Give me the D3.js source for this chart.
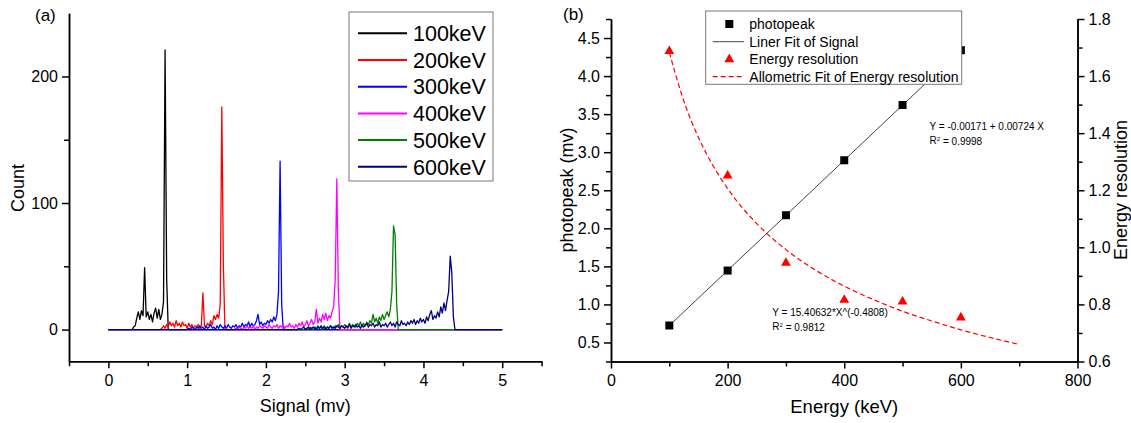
<!DOCTYPE html>
<html>
<head>
<meta charset="utf-8">
<script src="https://cdn.jsdelivr.net/npm/d3@7"></script>
<style>
  body { margin: 0; background: #fff; }
  svg { display: block; font-family: "Liberation Sans", Arial, sans-serif; }
  .axis path, .axis line { stroke: #000; stroke-width: 1.5; }
  .axis text { fill: #000; }
</style>
</head>
<body>
<script>
// ---- panel (a): spectra, counts per 0.02 mv channel ----
var binWidth = 0.02;
var labels = ["100keV", "200keV", "300keV", "400keV", "500keV", "600keV"];
var colors = ["#000000", "#ff0000", "#0000ff", "#ff00ff", "#008000", "#000080"];
var starts = [0.30, 0.66, 1.00, 1.60, 2.50, 2.40];

var counts100 = [0,2,3,9,14,8,15,11,49,10,14,8,12,6,13,17,9,16,8,12,22,221,40,0];
var counts200 = [0,1,3,1,4,2,6,3,5,2,7,3,5,2,6,3,4,1,5,2,4,1,3,2,4,1,3,29,3,2,5,3,7,4,11,8,12,9,20,176,50,0];
var counts300 = [0,1,0,2,1,0,2,1,3,1,2,0,3,1,2,4,1,2,0,3,1,4,2,1,3,1,4,2,1,3,2,4,1,3,2,5,2,4,3,6,2,5,3,4,7,12,4,6,3,5,4,7,5,8,6,10,7,12,30,133,20,0];
var counts400 = [0,1,0,2,1,0,2,1,3,1,2,1,3,0,2,1,3,2,1,3,2,1,4,2,1,3,2,4,1,3,2,4,1,3,2,5,2,3,1,4,2,5,3,6,2,4,7,3,5,8,4,6,16,5,9,6,12,8,13,7,11,9,14,18,40,119,30,0];
var counts500 = [0,1,0,2,1,0,2,1,3,1,2,0,3,1,2,1,3,2,1,3,2,4,1,3,2,4,2,1,5,2,4,3,2,5,3,6,2,5,3,6,4,7,5,12,6,9,5,10,7,12,8,11,14,10,16,30,82,75,20,0];
var counts600 = [0,1,0,1,2,0,1,2,0,1,2,1,0,2,1,3,1,2,0,2,1,3,1,2,1,3,2,1,3,2,1,3,2,4,1,3,2,4,2,3,1,4,2,3,5,2,4,3,5,2,4,3,6,2,4,3,5,2,4,6,3,5,2,6,4,3,7,4,5,3,6,4,7,5,8,4,7,5,9,6,8,5,10,7,12,15,8,11,9,14,10,18,13,21,15,23,30,58,45,10,0];
var allCounts = [counts100, counts200, counts300, counts400, counts500, counts600];

// ---- panel (b) ----
var energies = [100, 200, 300, 400, 500, 600];
var photopeak = [0.723, 1.445, 2.172, 2.894, 3.62, 4.34];
var resolution = [1.687, 1.251, 0.945, 0.816, 0.81, 0.754];
// linear fit line end points (Y = -0.00171 + 0.00724 X)
var linFitX = [100, 600];
var linFitY = [0.7223, 4.3423];
// allometric fit curve (Y = 15.40632*X^(-0.4808)) read at these energies
var alloFitX = [100, 125, 150, 175, 200, 250, 300, 350, 400, 450, 500, 550, 600, 650, 700];
var alloFitY = [1.683, 1.512, 1.385, 1.286, 1.206, 1.083, 0.992, 0.921, 0.864, 0.817, 0.776, 0.742, 0.711, 0.684, 0.660];

var svg = d3.select("body").append("svg")
    .attr("width", 1131)
    .attr("height", 423);

// ================= panel (a) =================
var xA = d3.scaleLinear().domain([-0.5, 5.5]).range([69, 541.6]);
var yA = d3.scaleLinear().domain([-25, 250]).range([361.2, 13.2]);

var gA = svg.append("g");

// minor ticks
gA.append("g").attr("class", "axis")
    .attr("transform", "translate(0," + yA.range()[0] + ")")
    .call(d3.axisBottom(xA).tickValues([-0.5, 0.5, 1.5, 2.5, 3.5, 4.5, 5.5]).tickFormat("").tickSize(5).tickSizeOuter(0));
gA.append("g").attr("class", "axis")
    .attr("transform", "translate(" + xA.range()[0] + ",0)")
    .call(d3.axisLeft(yA).tickValues([50, 150]).tickFormat("").tickSize(5).tickSizeOuter(0));

gA.append("g").attr("class", "axis")
    .attr("transform", "translate(0," + yA.range()[0] + ")")
    .call(d3.axisBottom(xA).tickValues([0, 1, 2, 3, 4, 5]).tickFormat(d3.format("d")).tickSize(7).tickSizeOuter(0).tickPadding(6))
    .selectAll("text").style("font-size", "16px");
gA.append("g").attr("class", "axis")
    .attr("transform", "translate(" + xA.range()[0] + ",0)")
    .call(d3.axisLeft(yA).tickValues([0, 100, 200]).tickSize(7).tickSizeOuter(0).tickPadding(4))
    .selectAll("text").style("font-size", "16px");

var lineA = d3.line().x(function(d) { return xA(d[0]); }).y(function(d) { return yA(d[1]); });

allCounts.forEach(function(c, k) {
  var pts = [[0, 0]];
  c.forEach(function(v, i) { pts.push([starts[k] + i * binWidth, v]); });
  pts.push([5, 0]);
  gA.append("path")
    .datum(pts)
    .attr("fill", "none")
    .attr("stroke", colors[k])
    .attr("stroke-width", 1.3)
    .attr("stroke-linejoin", "round")
    .attr("d", lineA);
});

// legend
var legA = gA.append("g");
legA.append("rect")
    .attr("x", 349).attr("y", 12).attr("width", 144).attr("height", 169)
    .attr("fill", "#fff").attr("stroke", "#777").attr("stroke-width", 1);
labels.forEach(function(l, i) {
  var yy = 33.3 + i * 26.7;
  legA.append("line").attr("x1", 358).attr("x2", 407).attr("y1", yy).attr("y2", yy)
      .attr("stroke", colors[i]).attr("stroke-width", 2);
  legA.append("text").attr("x", 413).attr("y", yy).attr("dy", "0.36em")
      .style("font-size", "21.5px").text(l);
});

gA.append("text").attr("x", 35).attr("y", 15).attr("dy", "0.36em")
    .style("font-size", "17px").text("(a)");
gA.append("text")
    .attr("transform", "translate(18,188) rotate(-90)")
    .attr("text-anchor", "middle").attr("dy", "0.36em")
    .style("font-size", "18px").text("Count");
gA.append("text")
    .attr("x", xA(2.5)).attr("y", 406).attr("dy", "0.36em")
    .attr("text-anchor", "middle")
    .style("font-size", "18px").text("Signal (mv)");

// ================= panel (b) =================
var xB = d3.scaleLinear().domain([0, 800]).range([611, 1077.5]);
var yB = d3.scaleLinear().domain([0.25, 4.75]).range([361.5, 19]);
var yR = d3.scaleLinear().domain([0.6, 1.8]).range([361.5, 19]);

var gB = svg.append("g");

gB.append("g").attr("class", "axis")
    .attr("transform", "translate(0," + yB.range()[0] + ")")
    .call(d3.axisBottom(xB).tickValues([100, 300, 500, 700]).tickFormat("").tickSize(5).tickSizeOuter(0));
gB.append("g").attr("class", "axis")
    .attr("transform", "translate(" + xB.range()[0] + ",0)")
    .call(d3.axisLeft(yB).tickValues([0.25, 0.75, 1.25, 1.75, 2.25, 2.75, 3.25, 3.75, 4.25, 4.75]).tickFormat("").tickSize(5).tickSizeOuter(0));
gB.append("g").attr("class", "axis")
    .attr("transform", "translate(" + xB.range()[1] + ",0)")
    .call(d3.axisRight(yR).tickValues([0.7, 0.9, 1.1, 1.3, 1.5, 1.7]).tickFormat("").tickSize(5).tickSizeOuter(0));

gB.append("g").attr("class", "axis")
    .attr("transform", "translate(0," + yB.range()[0] + ")")
    .call(d3.axisBottom(xB).tickValues([0, 200, 400, 600, 800]).tickSize(7).tickSizeOuter(0).tickPadding(6))
    .selectAll("text").style("font-size", "16px");
gB.append("g").attr("class", "axis")
    .attr("transform", "translate(" + xB.range()[0] + ",0)")
    .call(d3.axisLeft(yB).tickValues([0.5, 1, 1.5, 2, 2.5, 3, 3.5, 4, 4.5]).tickFormat(d3.format(".1f")).tickSize(7).tickSizeOuter(0).tickPadding(4))
    .selectAll("text").style("font-size", "16px");
gB.append("g").attr("class", "axis")
    .attr("transform", "translate(" + xB.range()[1] + ",0)")
    .call(d3.axisRight(yR).tickValues([0.6, 0.8, 1.0, 1.2, 1.4, 1.6, 1.8]).tickFormat(d3.format(".1f")).tickSize(7).tickSizeOuter(0).tickPadding(4))
    .selectAll("text").style("font-size", "16px");

// linear fit
gB.append("path")
    .datum(d3.zip(linFitX, linFitY))
    .attr("fill", "none").attr("stroke", "#444").attr("stroke-width", 1)
    .attr("d", d3.line().x(function(d) { return xB(d[0]); }).y(function(d) { return yB(d[1]); }));

// allometric fit
gB.append("path")
    .datum(d3.zip(alloFitX, alloFitY))
    .attr("fill", "none").attr("stroke", "#ff0000").attr("stroke-width", 1.2)
    .attr("stroke-dasharray", "5,3")
    .attr("d", d3.line().curve(d3.curveMonotoneX).x(function(d) { return xB(d[0]); }).y(function(d) { return yR(d[1]); }));

// photopeak squares
gB.selectAll(".sq")
    .data(d3.zip(energies, photopeak))
    .enter().append("rect")
    .attr("class", "sq")
    .attr("x", function(d) { return xB(d[0]) - 4; })
    .attr("y", function(d) { return yB(d[1]) - 4; })
    .attr("width", 8).attr("height", 8)
    .attr("fill", "#000");

// energy resolution triangles
gB.selectAll(".tri")
    .data(d3.zip(energies, resolution))
    .enter().append("path")
    .attr("class", "tri")
    .attr("transform", function(d) { return "translate(" + xB(d[0]) + "," + yR(d[1]) + ")"; })
    .attr("d", d3.symbol().type(d3.symbolTriangle).size(42))
    .attr("fill", "#ff0000");

// legend
var legB = gB.append("g");
legB.append("rect")
    .attr("x", 705.7).attr("y", 11).attr("width", 256).attr("height", 73.3)
    .attr("fill", "#fff").attr("stroke", "#777").attr("stroke-width", 1);
var legRows = [24, 41.7, 59.3, 76.7];
legB.append("rect").attr("x", 729.3 - 4).attr("y", legRows[0] - 4).attr("width", 8).attr("height", 8).attr("fill", "#000");
legB.append("line").attr("x1", 712.7).attr("x2", 744).attr("y1", legRows[1]).attr("y2", legRows[1])
    .attr("stroke", "#444").attr("stroke-width", 1);
legB.append("path").attr("transform", "translate(729.3," + legRows[2] + ")")
    .attr("d", d3.symbol().type(d3.symbolTriangle).size(42)).attr("fill", "#ff0000");
legB.append("line").attr("x1", 712.7).attr("x2", 744).attr("y1", legRows[3]).attr("y2", legRows[3])
    .attr("stroke", "#ff0000").attr("stroke-width", 1.2).attr("stroke-dasharray", "5,3");
["photopeak", "Liner Fit of Signal", "Energy resolution", "Allometric Fit of Energy resolution"].forEach(function(t, i) {
  legB.append("text").attr("x", 749.3).attr("y", legRows[i]).attr("dy", "0.36em")
      .style("font-size", "14px").text(t);
});

// fit annotations
function fitNote(x, y, eq, r2) {
  var g = gB.append("g").style("font-size", "10px");
  g.append("text").attr("x", x).attr("y", y).attr("dy", "0.36em").text(eq);
  var t = g.append("text").attr("x", x).attr("y", y + 14).attr("dy", "0.36em");
  t.append("tspan").text("R");
  t.append("tspan").attr("dy", "-0.4em").style("font-size", "6px").text("2");
  t.append("tspan").attr("dy", "0.4em").text(" = " + r2);
}
fitNote(929.6, 126, "Y = -0.00171 + 0.00724 X", "0.9998");
fitNote(772.3, 312, "Y = 15.40632*X^(-0.4808)", "0.9812");

gB.append("text").attr("x", 563).attr("y", 13.5).attr("dy", "0.36em")
    .style("font-size", "17px").text("(b)");
gB.append("text")
    .attr("transform", "translate(567,190) rotate(-90)")
    .attr("text-anchor", "middle").attr("dy", "0.36em")
    .style("font-size", "18px").text("photopeak (mv)");
gB.append("text")
    .attr("transform", "translate(1121,190) rotate(-90)")
    .attr("text-anchor", "middle").attr("dy", "0.36em")
    .style("font-size", "18px").text("Energy resolution");
gB.append("text")
    .attr("x", xB(400)).attr("y", 406).attr("dy", "0.36em")
    .attr("text-anchor", "middle")
    .style("font-size", "18.5px").text("Energy (keV)");
</script>
</body>
</html>
